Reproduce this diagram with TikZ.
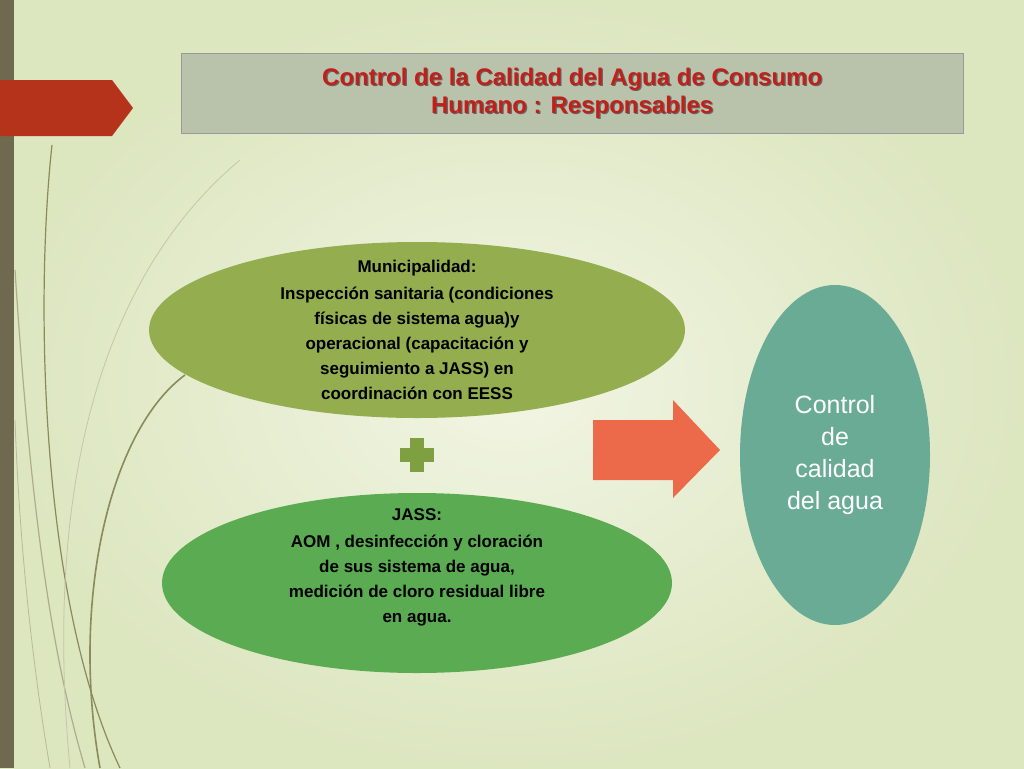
\documentclass[tikz,border=0pt]{standalone}
\usepackage{fontspec}
\setmainfont{Liberation Sans}
\usetikzlibrary{shapes.geometric}
\definecolor{bgc}{HTML}{F2F5E4}
\definecolor{bge}{HTML}{DCE6BF}
\definecolor{barc}{HTML}{6F6A4F}
\definecolor{redar}{HTML}{B5331A}
\definecolor{titlebg}{HTML}{B9C2AB}
\definecolor{titletx}{HTML}{C0201A}
\definecolor{ellA}{HTML}{93AD4F}
\definecolor{ellB}{HTML}{5AAB52}
\definecolor{ellC}{HTML}{69AB94}
\definecolor{plusc}{HTML}{7FA040}
\definecolor{orar}{HTML}{EC6A4A}
\definecolor{curvec}{HTML}{8A8A5A}
\tikzset{
  ell/.style={ellipse, draw=none, align=center, font=\bfseries\fontsize{17}{21}\selectfont, inner sep=0pt},
  curve/.style={draw=curvec, line width=1.2pt}
}
\begin{document}
\begin{tikzpicture}[x=1pt,y=-1pt]
\useasboundingbox (0,0) rectangle (1024,768);
\fill[outer color=bge, inner color=bgc] (0,0) rectangle (1024,768);
\fill[barc] (0,0) rectangle (14,768);
% decorative curves
\draw[curve] (52,145) .. controls (35,300) and (40,600) .. (120,768);
\draw[curve, curvec!70] (15,270) .. controls (30,500) and (50,650) .. (85,768);
\draw[curve, curvec!50, line width=0.8pt] (240,160) .. controls (120,260) and (40,450) .. (70,768);
\draw[curve, line width=1.6pt] (185,375) .. controls (110,430) and (70,600) .. (100,768);
\draw[curve, curvec!60, line width=0.8pt] (15,420) .. controls (20,560) and (35,680) .. (50,768);
% red arrow
\fill[redar] (0,80) -- (112,80) -- (133,108) -- (112,136) -- (0,136) -- cycle;
% title
\node[draw=gray!80, fill=titlebg, minimum width=782, minimum height=80, anchor=north west, inner sep=0] (title) at (181,53) {};
\node[text=black!60, font=\bfseries\fontsize{24}{28}\selectfont, align=center] at ([xshift=1.2,yshift=-1.2]title.center) {Control de la Calidad del Agua de Consumo\\Humano : Responsables};
\node[text=titletx, font=\bfseries\fontsize{24}{28}\selectfont, align=center] (tt) at (title.center) {Control de la Calidad del Agua de Consumo\\Humano : Responsables};
% ellipses
\node[ell, fill=ellA, minimum width=536, minimum height=176] (muni) at (417,330) {};
\node[align=center, font=\bfseries\fontsize{17}{25}\selectfont] (munit) at (417,330) {Municipalidad:\\[2pt]Inspección sanitaria (condiciones\\físicas de sistema agua)y\\operacional (capacitación y\\seguimiento a JASS) en\\coordinación con EESS};
\fill[plusc] (410,438) rectangle (424,472);
\fill[plusc] (400,448) rectangle (434,462);
\node (plus) at (417,455) {};
\node[ell, fill=ellB, minimum width=510, minimum height=180] (jass) at (417,583) {};
\node[align=center, font=\bfseries\fontsize{17}{25}\selectfont] (jasst) at (417,567) {JASS:\\[2pt]AOM , desinfección y cloración\\de sus sistema de agua,\\medición de cloro residual libre\\en agua.};
\fill[orar] (593,420) -- (673,420) -- (673,400) -- (720,450) -- (673,498) -- (673,480) -- (593,480) -- cycle;
\node (arr) at (655,450) {};
\node[ell, fill=ellC, minimum width=190, minimum height=340, text=white, font=\fontsize{25}{32}\selectfont] (ctrl) at (835,455) {Control\\de\\calidad\\del agua};
\end{tikzpicture}
\end{document}
